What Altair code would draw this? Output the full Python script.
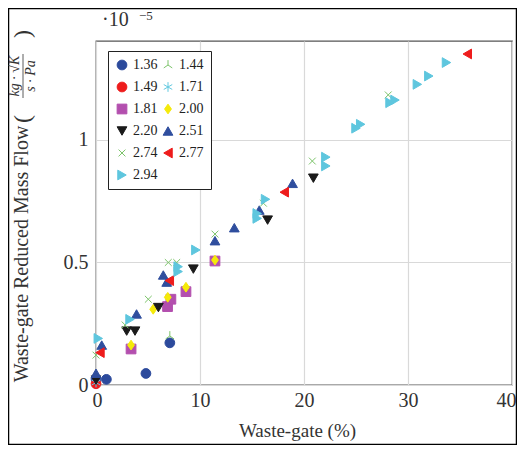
import altair as alt
import pandas as pd

# ---- data (waste-gate %, reduced mass flow in 1e-5 units) ----
series = ["1.36", "1.44", "1.49", "1.71", "1.81", "2.00", "2.20", "2.51", "2.74", "2.77", "2.94"]

wg_136 = [0, 1.0, 4.8, 7.1]
mf_136 = [0.025, 0.023, 0.047, 0.172]
wg_144 = [0, 7.1]
mf_144 = [0.015, 0.2]
wg_149 = [0]
mf_149 = [0.005]
wg_171 = [0]
mf_171 = [0.01]
wg_181 = [3.37, 6.88, 7.2, 8.65, 11.44]
mf_181 = [0.147, 0.32, 0.35, 0.381, 0.506]
wg_200 = [3.37, 5.5, 6.9, 8.65, 11.44]
mf_200 = [0.163, 0.309, 0.358, 0.399, 0.51]
wg_220 = [0, 2.95, 3.75, 6.0, 9.36, 16.5, 20.9]
mf_220 = [0.02, 0.22, 0.22, 0.316, 0.473, 0.673, 0.844]
wg_251 = [0, 0.55, 3.9, 6.47, 6.8, 11.44, 13.3, 15.7, 18.9]
mf_251 = [0.048, 0.163, 0.29, 0.449, 0.42, 0.589, 0.642, 0.714, 0.823]
wg_274 = [0, 2.8, 5.03, 6.95, 7.76, 11.44, 16.1, 20.8, 28.1]
mf_274 = [0.122, 0.245, 0.35, 0.5, 0.5, 0.616, 0.742, 0.914, 1.184]
wg_277 = [0.38, 7.05, 18.1, 35.7]
mf_277 = [0.132, 0.426, 0.787, 1.351]
wg_294 = [0.22, 3.27, 7.9, 7.9, 9.6, 15.5, 15.5, 16.3, 22.1, 22.1, 25.0, 25.45, 28.27, 28.75, 30.9, 32.0, 33.7]
mf_294 = [0.19, 0.268, 0.483, 0.463, 0.551, 0.70, 0.68, 0.758, 0.93, 0.894, 1.048, 1.064, 1.152, 1.163, 1.227, 1.261, 1.316]

x_ticks = [0, 10, 20, 30, 40]
y_ticks = [0, 0.5, 1]

colors = ["#2c4a9c", "#7cc46a", "#ee1c1c", "#62c9e0", "#b34fae", "#f5ea0a",
          "#1a1a1a", "#2f4e9e", "#7cc46a", "#ee1c1c", "#5ec6de"]
shapes = [
    "circle",
    "M0,0L0,-1M0,0L-0.87,0.6M0,0L0.87,0.6",
    "circle",
    "M0,-1L0,1M-0.87,-0.5L0.87,0.5M-0.87,0.5L0.87,-0.5",
    "square",
    "M0,-1L0.7,0L0,1L-0.7,0Z",
    "triangle-down",
    "triangle-up",
    "M-0.7,-0.7L0.7,0.7M-0.7,0.7L0.7,-0.7",
    "triangle-left",
    "triangle-right",
]

pairs = [(wg_136, mf_136), (wg_144, mf_144), (wg_149, mf_149), (wg_171, mf_171),
         (wg_181, mf_181), (wg_200, mf_200), (wg_220, mf_220), (wg_251, mf_251),
         (wg_274, mf_274), (wg_277, mf_277), (wg_294, mf_294)]
rows = []
for i, (s, (xs, ys)) in enumerate(zip(series, pairs)):
    for xv, yv in zip(xs, ys):
        rows.append({"p": s, "wg": xv, "mf": yv, "o": i})
df = pd.DataFrame(rows)

FONT = "Liberation Serif"
W, H = 416, 344

pts = alt.Chart(df).mark_point(filled=True, size=95, strokeWidth=1, opacity=1).encode(
    x=alt.X("wg:Q", scale=alt.Scale(domain=[0, 40], nice=False),
            axis=alt.Axis(values=x_ticks, format="d", title="Waste-gate (%)",
                          labelFlush=True, labelFlushOffset=4,
                          titleX=201, titleY=36, titleBaseline="top",
                          titleAnchor="start", titleAlign="center")),
    y=alt.Y("mf:Q", scale=alt.Scale(domain=[0, 1.404], nice=False),
            axis=alt.Axis(values=y_ticks, format="~g", title=None, labelFlush=False)),
    color=alt.Color("p:N", scale=alt.Scale(domain=series, range=colors),
                    legend=alt.Legend(title=None, orient="none", legendX=12, legendY=10,
                                      direction="horizontal",
                                      columns=2, columnPadding=3, rowPadding=8,
                                      symbolSize=95, symbolStrokeWidth=1,
                                      labelFontSize=14, labelFont=FONT, labelOffset=4,
                                      labelColor="#222", padding=7,
                                      strokeColor="#222", fillColor="white")),
    stroke=alt.Stroke("p:N", scale=alt.Scale(domain=series, range=colors)),
    shape=alt.Shape("p:N", scale=alt.Scale(domain=series, range=shapes)),
    order=alt.Order("o:Q"),
)

one = pd.DataFrame({"a": [0]})

def txt(text, x, y, size, angle=0, align="center", baseline="middle", style="normal"):
    return alt.Chart(one).mark_text(text=text, font=FONT, fontSize=size, angle=angle,
                                    align=align, baseline=baseline, fontStyle=style,
                                    color="#333").encode(x=alt.value(x), y=alt.value(y))

ytitle = txt("Waste-gate Reduced Mass Flow", -74, 213, 20, angle=270)
lpar = txt("(", -73, 78, 24, angle=270)
rpar = txt(")", -73, -7, 24, angle=270)
num = txt("kg · √K", -81, 35, 14, angle=270, style="italic")
den = txt("s · Pa", -65, 35, 14, angle=270, style="italic")
frac = alt.Chart(one).mark_rule(color="#333", strokeWidth=0.8).encode(
    x=alt.value(-73), y=alt.value(13), y2=alt.value(57))
exp1 = txt("·10", 6, -15, 20, align="left", baseline="alphabetic")
exp2 = txt("−5", 43, -21, 13, align="left", baseline="alphabetic")

frame = alt.Chart(one).mark_rect(fill=None, stroke="black", strokeWidth=1.5).encode(
    x=alt.value(-87.5), x2=alt.value(420.5), y=alt.value(-32.5), y2=alt.value(403.5))

chart = alt.layer(frame, pts, ytitle, lpar, rpar, num, den, frac, exp1, exp2).properties(
    width=W, height=H,
    autosize=alt.AutoSizeParams(type="none"),
    padding={"left": 88, "top": 33, "right": 5, "bottom": 60},
).configure(font=FONT).configure_view(
    stroke="#555", strokeWidth=1.3
).configure_axis(
    grid=True, gridColor="#d9d9d9", gridWidth=1.2, domain=False, ticks=False,
    labelFont=FONT, labelFontSize=20, labelColor="#333", titleFont=FONT,
    titleFontSize=19, titleFontWeight="normal", titleColor="#333", labelPadding=5
).configure_axisY(labelPadding=8)

chart.save("out.html", embed_options={"renderer": "svg", "actions": False})
